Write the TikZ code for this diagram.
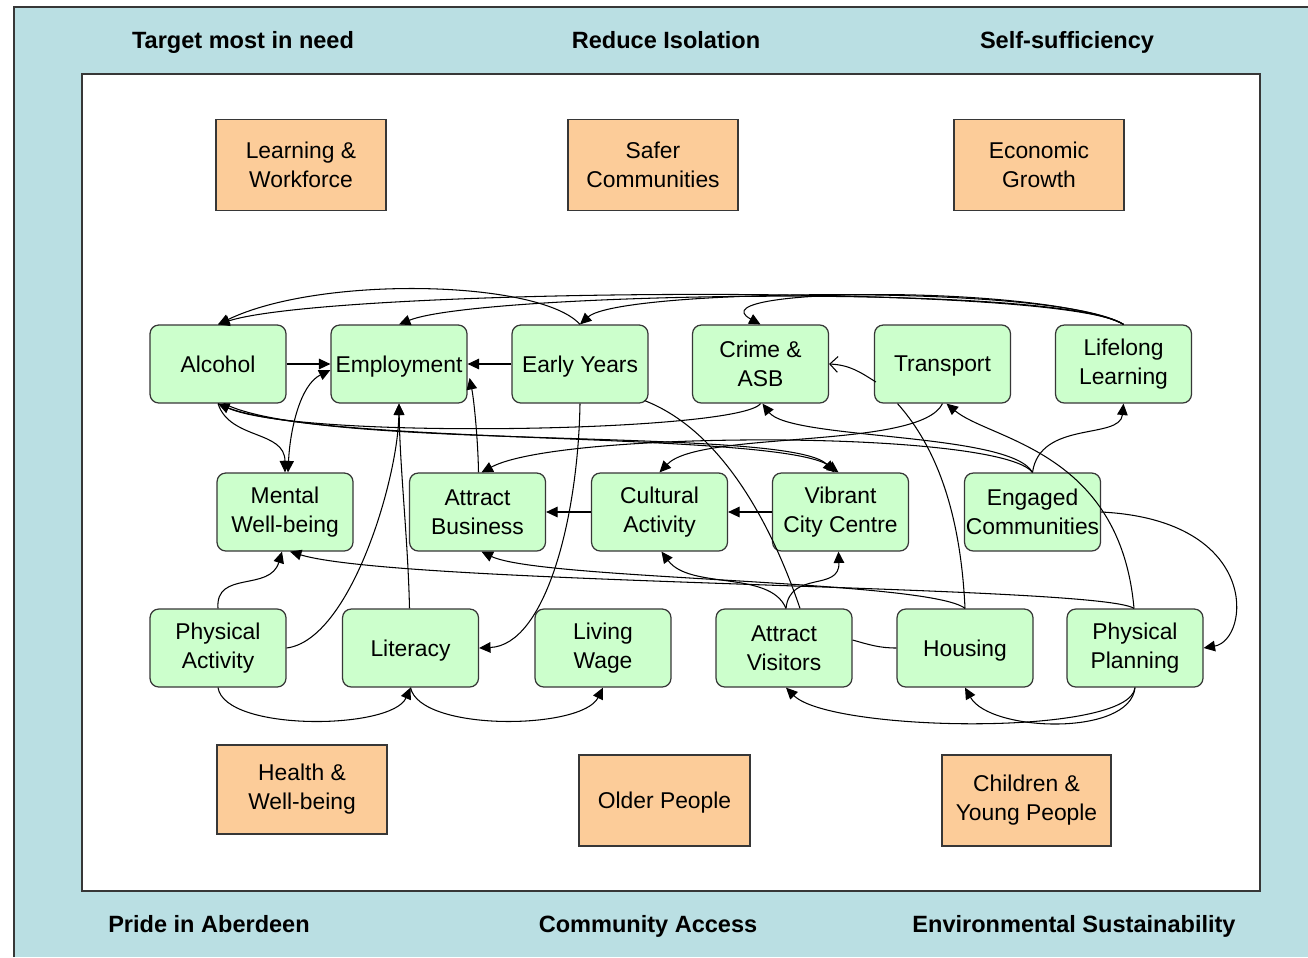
\documentclass[tikz,border=0pt]{standalone}
\usepackage{fontspec}
\setmainfont{Liberation Sans}
\usetikzlibrary{arrows.meta,calc}
\definecolor{bgblue}{RGB}{186,223,227}
\definecolor{gfill}{RGB}{204,255,204}
\definecolor{ofill}{RGB}{252,204,153}
\definecolor{edgec}{RGB}{55,55,55}
\newcommand\bxfont{\fontsize{13pt}{16.5pt}\selectfont}
\newcommand\hdfont{\fontsize{13.4pt}{16pt}\selectfont\bfseries}
\begin{document}
\begin{tikzpicture}[x=0.02cm,y=-0.02cm,
  gbox/.style={draw=edgec, fill=gfill, rounded corners=5pt, minimum width=2.72cm, minimum height=1.56cm, align=center, inner sep=0pt, font=\bxfont, line width=0.7pt},
  obox/.style={draw=edgec, fill=ofill, minimum width=3.4cm, minimum height=1.82cm, align=center, inner sep=0pt, font=\bxfont, line width=0.7pt},
  oneline/.style={text depth=0pt},
  hdr/.style={font=\hdfont, inner sep=0pt, anchor=base},
  conn/.style={draw=black, line width=0.6pt, -{Triangle[length=6.5pt,width=6pt]}},
  dbl/.style={draw=black, line width=0.6pt, {Triangle[length=6.5pt,width=6pt]}-{Triangle[length=6.5pt,width=6pt]}},
  plain/.style={draw=black, line width=0.6pt},
  openarr/.style={draw=black, line width=0.6pt, -{Straight Barb[length=4.5pt,width=9pt]}}
]
\useasboundingbox (0,0) rectangle (1308,957);
\fill[white] (0,0) rectangle (1308,957);
\fill[bgblue] (14,7) rectangle (1308,957);
\draw[edgec, line width=0.8pt] (14,957) -- (14,7) -- (1308,7);
\draw[edgec, fill=white, line width=0.8pt] (82,74) rectangle (1260,891);

% headers
\node[hdr] (h1) at (243,48) {Target most in need};
\node[hdr] (h2) at (666,48) {Reduce Isolation};
\node[hdr] (h3) at (1067,48) {Self-sufficiency};
\node[hdr] (h4) at (209,932) {Pride in Aberdeen};
\node[hdr] (h5) at (648,932) {Community Access};
\node[hdr] (h6) at (1074,932) {Environmental Sustainability};

% orange boxes
\node[obox] (lw) at (301,165) {Learning \&\\Workforce};
\node[obox] (sc) at (653,165) {Safer\\Communities};
\node[obox] (eg) at (1039,165) {Economic\\Growth};
\node[obox, minimum height=1.78cm] (hw) at (302,789.5) {Health \&\\Well-being};
\node[obox, oneline, minimum width=3.42cm] (op) at (664.5,800.5) {Older People};
\node[obox, minimum width=3.38cm] (cy) at (1026.5,800.5) {Children \&\\Young People};

% green boxes row 1
\node[gbox] (alc) at (218,364) {Alcohol};
\node[gbox, oneline] (emp) at (399,364) {Employment};
\node[gbox, oneline] (ey) at (580,364) {Early Years};
\node[gbox] (crime) at (760.5,364) {Crime \&\\ASB};
\node[gbox, oneline] (trans) at (942.5,364) {Transport};
\node[gbox] (life) at (1123.5,364) {Lifelong\\Learning};
% row 2
\node[gbox] (mwb) at (285,512) {Mental\\Well-being};
\node[gbox] (ab) at (477.5,512) {Attract\\Business};
\node[gbox] (ca) at (659.5,512) {Cultural\\Activity};
\node[gbox] (vcc) at (840.5,512) {Vibrant\\City Centre};
\node[gbox] (ec) at (1032.5,512) {Engaged\\Communities};
% row 3
\node[gbox] (pa) at (218,648) {Physical\\Activity};
\node[gbox, oneline] (lit) at (410.5,648) {Literacy};
\node[gbox] (lwage) at (603,648) {Living\\Wage};
\node[gbox] (av) at (784,648) {Attract\\Visitors};
\node[gbox, oneline] (hou) at (965,648) {Housing};
\node[gbox] (pp) at (1135,648) {Physical\\Planning};

% top arcs
\draw[conn] (life.north) .. controls (1060,282) and (330,288) .. (alc.north);
\draw[conn] (life.north) .. controls (1060,283) and (480,292) .. (emp.north);
\draw[conn] (life.north) .. controls (1060,284) and (620,288) .. (ey.north);
\draw[conn] (life.north) .. controls (1050,285) and (690,286) .. (crime.north);
\draw[conn] (ey.north) .. controls (540,280) and (320,275) .. (alc.north);

% row 1 horizontals
\draw[conn] (alc.east) -- (emp.west);
\draw[conn] (ey.west) -- (emp.east);
\draw[openarr] ($(trans.west)+(2,18)$) .. controls (860,372) and (850,365) .. (crime.east);

% band between row 1 and row 2
\draw[conn] (alc.south) .. controls (230,440) and (285,430) .. (mwb.north);
\draw[dbl] ($(emp.west)+(0,6)$) .. controls (300,385) and (290,430) .. ($(mwb.north)+(3,0)$);
\draw[conn] ($(lit.north)+(-1,0)$) .. controls (408,540) and (400,470) .. (emp.south);
\draw[conn] (pa.east) .. controls (350,640) and (398,480) .. (emp.south);
\draw[conn] ($(ab.north)+(1,0)$) .. controls (478,440) and (474,400) .. ($(emp.east)+(2,14)$);
\draw[conn] (ey.south) .. controls (578,520) and (545,645) .. (lit.east);
\draw[plain] ($(ey.south east)+(-4,-3)$) .. controls (720,430) and (770,520) .. ($(av.north)+(16,0)$);
\draw[conn] (crime.south) .. controls (740,432) and (300,440) .. (alc.south);
\draw[conn] (alc.south) .. controls (300,447) and (780,430) .. ($(vcc.north)+(-2,0)$);
\draw[conn] ($(alc.south)+(6,0)$) .. controls (320,452) and (790,426) .. ($(vcc.north)+(-6,0)$);
\draw[conn] (ec.north) .. controls (1000,430) and (560,430) .. ($(ab.north)+(4,0)$);
\draw[conn] (trans.south) .. controls (920,450) and (700,430) .. (ca.north);
\draw[conn] (ec.north) .. controls (1010,432) and (790,440) .. ($(crime.south)+(2,0)$);
\draw[conn] (ec.north) .. controls (1040,420) and (1120,440) .. (life.south);
\draw[conn] ($(pp.north)+(-1,0)$) .. controls (1120,450) and (990,440) .. ($(trans.south)+(4,0)$);
\draw[plain] (hou.north) .. controls (960,500) and (930,440) .. ($(trans.south)+(-45,0)$);
\draw[conn] (vcc.west) -- (ca.east);
\draw[conn] (ca.west) -- (ab.east);

% band between row 2 and row 3
\draw[conn] (pa.north) .. controls (215,570) and (270,592) .. ($(mwb.south)+(-3,0)$);
\draw[conn] ($(pp.north)+(-1,0)$) .. controls (1100,585) and (400,585) .. ($(mwb.south)+(5,0)$);
\draw[conn] (hou.north) .. controls (930,580) and (540,580) .. ($(ab.south)+(4,0)$);
\draw[conn] ($(av.north)+(2,0)$) .. controls (770,570) and (690,590) .. ($(ca.south)+(2,0)$);
\draw[conn] ($(av.north)+(2,0)$) .. controls (790,570) and (840,592) .. ($(vcc.south)+(-2,0)$);
\draw[conn] (ec.east) .. controls (1262,520) and (1250,640) .. (pp.east);

% below row 3
\draw[conn] (pa.south) .. controls (225,732) and (392,730) .. (lit.south);
\draw[conn] (lit.south) .. controls (420,732) and (582,730) .. (lwage.south);
\draw[conn] (pp.south) .. controls (1130,737) and (830,732) .. ($(av.south)+(2,0)$);
\draw[conn] (pp.south) .. controls (1130,737) and (990,732) .. (hou.south);
\draw[plain] ($(av.east)+(0,-8)$) .. controls (870,645) and (880,648) .. (hou.west);
\end{tikzpicture}
\end{document}
